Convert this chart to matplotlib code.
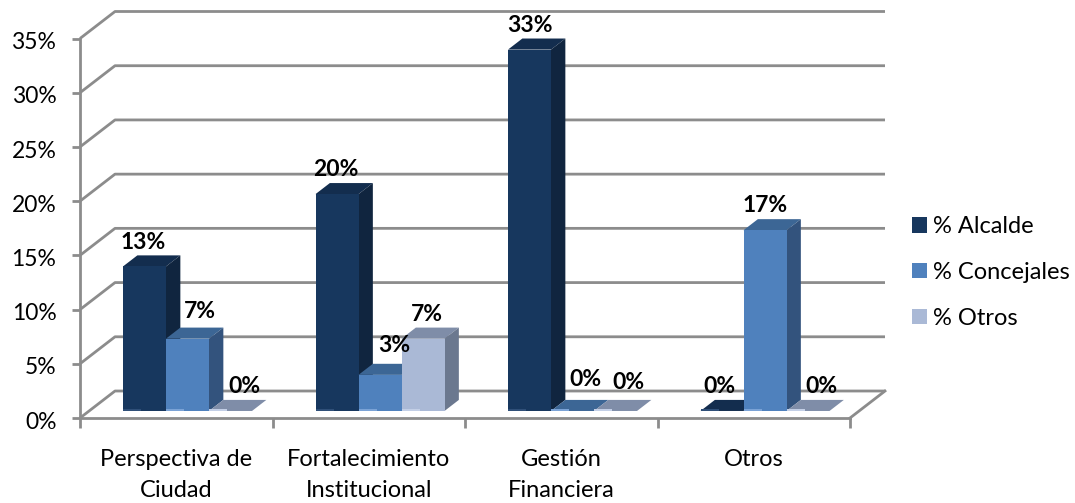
import matplotlib
matplotlib.use("Agg")
import matplotlib.pyplot as plt
from matplotlib.patches import Polygon
from matplotlib.transforms import ScaledTranslation

plt.rcParams["font.family"] = ["Lato", "DejaVu Sans"]

# -----------------------------
# Data
# -----------------------------
categories = ["Perspectiva de\nCiudad", "Fortalecimiento\nInstitucional", "Gestión\nFinanciera", "Otros"]
alcalde = [13.33, 20.0, 33.33, 0.0]
concejales = [6.67, 3.33, 0.0, 16.67]
otros = [0.0, 6.67, 0.0, 0.0]
series_names = ["% Alcalde", "% Concejales", "% Otros"]
y_ticks = [0, 5, 10, 15, 20, 25, 30, 35]

# -----------------------------
# Fake 3D settings
# -----------------------------
W, H = 1075, 503
grid_color = "#8c8c8c"
# front, top, side colours of each series
colors = [
    ("#17375e", "#132d4e", "#10253f"),
    ("#4f81bd", "#3c6695", "#33537d"),
    ("#aab9d6", "#7f8da8", "#6b788f"),
]
base_colors = ["#2f4f78", "#7ba3d6", "#c3cfe6"]

wall_x = 35 / 192.5   # depth of the floor, in category units
wall_y = 2.49         # depth of the floor, in percent units
front = 0.26          # where the bars start inside the floor
depth = 0.41          # how deep the bars are
bar_w = 43 / 192.5
first_gap = 43 / 192.5 - front * wall_x

# label nudges in points: one list per series, one value per category
label_dx = [[-1, -1, 0, -2], [9, 10, 9, 0], [10, 3, 9, 10]]
label_dy = [[0, 0, 0, 0], [2, 4, 5, 0], [0, 0, 3, 0]]

fig = plt.figure(figsize=(W / 100, H / 100), dpi=100)
ax = fig.add_axes([80 / W, (H - 418) / H, 770 / W, 379.5 / H])
ax.set_xlim(0, len(categories))
ax.set_ylim(0, 35)
ax.patch.set_visible(False)

# -----------------------------
# Walls and floor
# -----------------------------
for t in y_ticks:
    ax.plot([0, wall_x, len(categories) + wall_x], [t, t + wall_y, t + wall_y],
            color=grid_color, lw=2, clip_on=False, zorder=1, solid_capstyle="butt")
ax.plot([len(categories), len(categories) + wall_x], [0, wall_y],
        color=grid_color, lw=2, clip_on=False, zorder=1)

# -----------------------------
# Bars
# -----------------------------
handles = []
z = 3
base = front * wall_y
dx, dy = depth * wall_x, depth * wall_y
for s, values in enumerate([alcalde, concejales, otros]):
    c_front, c_top, c_side = colors[s]
    xs = [i + first_gap + s * bar_w + front * wall_x for i in range(len(categories))]
    bars = ax.bar(xs, values, bar_w, bottom=base, align="edge", color=c_front,
                  label=series_names[s], zorder=z + 1, clip_on=False, lw=0)
    handles.append(bars)
    for i, (x, v) in enumerate(zip(xs, values)):
        top = base + v
        ax.add_patch(Polygon([(x, top), (x + bar_w, top), (x + bar_w + dx, top + dy), (x + dx, top + dy)],
                             closed=True, color=c_top, lw=0, zorder=z, clip_on=False))
        ax.add_patch(Polygon([(x + bar_w, base), (x + bar_w + dx, base + dy), (x + bar_w + dx, top + dy), (x + bar_w, top)],
                             closed=True, color=c_side, lw=0, zorder=z, clip_on=False))
        # small lighter strip along the bottom of each bar
        ax.bar(x, 0.2, bar_w * 0.42, bottom=base, align="edge", color=base_colors[s],
               zorder=z + 2, clip_on=False, lw=0)
        ax.annotate(f"{v:.0f}%", (x + bar_w / 2, top + dy),
                    xytext=(label_dx[s][i], 9.5 + label_dy[s][i]), textcoords="offset points",
                    ha="center", va="center", fontsize=16.5, fontweight="bold", color="black",
                    zorder=50, annotation_clip=False)
    z += 3

# -----------------------------
# Axes
# -----------------------------
for side in ["top", "right"]:
    ax.spines[side].set_visible(False)
for side in ["left", "bottom"]:
    ax.spines[side].set_color(grid_color)
    ax.spines[side].set_linewidth(2)
    ax.spines[side].set_zorder(2)

ax.set_yticks(y_ticks)
ax.set_yticklabels([f"{t}%" for t in y_ticks])
ax.tick_params(axis="y", length=6, width=2, color=grid_color, pad=11, labelsize=16.5, labelcolor="black")
for label in ax.get_yticklabels():
    label.set_transform(label.get_transform() + ScaledTranslation(0, -1.5 / 72, fig.dpi_scale_trans))
ax.set_xticks(range(len(categories) + 1))
ax.set_xticklabels([])
ax.tick_params(axis="x", which="major", length=7, width=2, color=grid_color)
ax.set_xticks([i + 0.5 for i in range(len(categories))], minor=True)
ax.set_xticklabels(categories, minor=True, fontsize=17, linespacing=1.6, color="black")
ax.tick_params(axis="x", which="minor", length=0, pad=22.5)

# -----------------------------
# Legend
# -----------------------------
ax.legend(handles=handles, loc="upper left", bbox_to_anchor=(905 / W, (H - 209) / H),
          bbox_transform=fig.transFigure, frameon=False, fontsize=17,
          handlelength=0.64, handleheight=0.64, handletextpad=0.25,
          labelspacing=1.05, borderpad=0.3, borderaxespad=0)

fig.savefig("out.png", dpi=100)
